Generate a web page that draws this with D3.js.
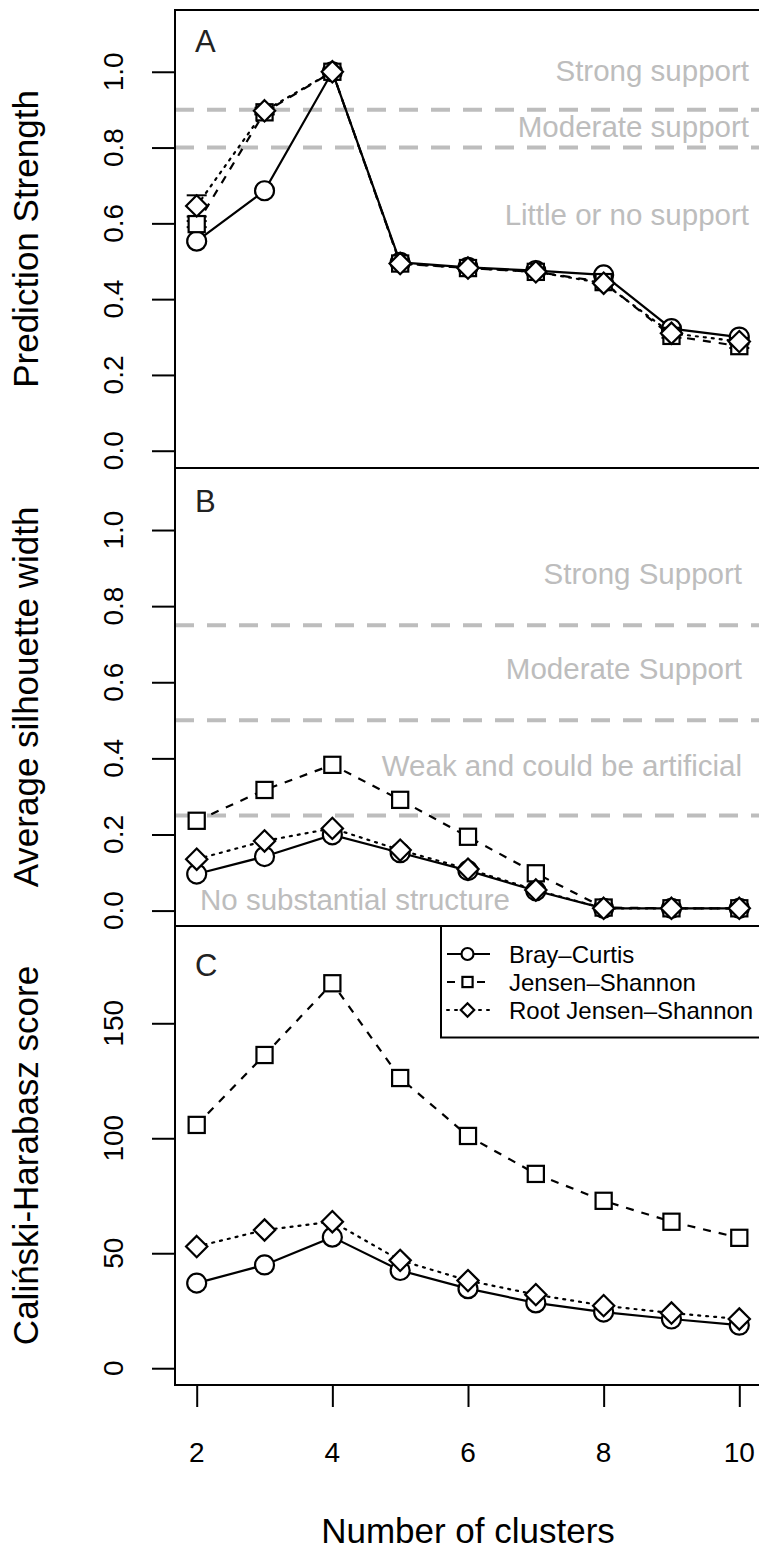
<!DOCTYPE html>
<html>
<head>
<meta charset="utf-8">
<script src="https://cdn.jsdelivr.net/npm/d3@7"></script>
<style>
  html, body { margin: 0; padding: 0; background: #fff; }
  svg { display: block; }
  text { font-family: "Liberation Sans", Arial, Helvetica, sans-serif; }
</style>
</head>
<body>
<svg id="chart" width="759" height="1552"></svg>
<script>
// ---------------- data ----------------
const clusters = [2, 3, 4, 5, 6, 7, 8, 9, 10];
const xTicks = [2, 4, 6, 8, 10];
const seriesNames = ["Bray\u2013Curtis", "Jensen\u2013Shannon", "Root Jensen\u2013Shannon"];

// Panel A: prediction strength
const psBC  = [0.553, 0.686, 1.000, 0.497, 0.484, 0.475, 0.464, 0.322, 0.300];
const psJS  = [0.598, 0.893, 1.000, 0.494, 0.482, 0.472, 0.445, 0.303, 0.276];
const psRJS = [0.646, 0.897, 1.000, 0.494, 0.482, 0.472, 0.442, 0.310, 0.288];
const psErrBC  = [0.005, 0.005, 0, 0.004, 0.003, 0.003, 0.004, 0.005, 0.004];
const psErrJS  = [0.008, 0.006, 0, 0.004, 0.003, 0.003, 0.004, 0.005, 0.005];
const psErrRJS = [0.028, 0.008, 0, 0.004, 0.003, 0.003, 0.004, 0.005, 0.005];

// Panel B: average silhouette width
const silBC  = [0.096, 0.142, 0.199, 0.152, 0.105, 0.052, 0.006, 0.006, 0.006];
const silJS  = [0.236, 0.317, 0.383, 0.291, 0.194, 0.098, 0.008, 0.006, 0.006];
const silRJS = [0.135, 0.183, 0.216, 0.159, 0.109, 0.054, 0.006, 0.006, 0.006];

// Panel C: Calinski-Harabasz score
const chBC  = [37.0, 44.9, 57.0, 42.5, 34.6, 28.4, 24.4, 21.4, 18.7];
const chJS  = [105.8, 136.2, 167.4, 126.2, 101.0, 84.5, 72.8, 63.7, 56.7];
const chRJS = [52.9, 60.1, 63.7, 46.9, 38.1, 32.0, 27.2, 24.0, 21.4];

const ticksA = [0, 0.2, 0.4, 0.6, 0.8, 1.0];
const ticksB = [0, 0.2, 0.4, 0.6, 0.8, 1.0];
const ticksC = [0, 50, 100, 150];

const refA = [0.9, 0.8];
const refB = [0.75, 0.5, 0.25];
const labelsA = ["Strong support", "Moderate support", "Little or no support"];
const labelsB = ["Strong Support", "Moderate Support", "Weak and could be artificial", "No substantial structure"];

// ---------------- layout ----------------
const svg = d3.select("#chart");
const left = 175, right = 761;
const x = d3.scaleLinear().domain([1.68, 10.32]).range([left, right]);

const panels = [
  { letter: "A", title: "Prediction Strength", top: 10, bottom: 468, domain: [-0.0456, 1.163],
    series: [psBC, psJS, psRJS], err: [psErrBC, psErrJS, psErrRJS], ticks: ticksA, fmt: d3.format(".1f") },
  { letter: "B", title: "Average silhouette width", top: 468, bottom: 926, domain: [-0.0405, 1.163],
    series: [silBC, silJS, silRJS], err: null, ticks: ticksB, fmt: d3.format(".1f") },
  { letter: "C", title: "Cali\u0144ski-Harabasz score", top: 926, bottom: 1385, domain: [-7.3, 192.3],
    series: [chBC, chJS, chRJS], err: null, ticks: ticksC, fmt: d3.format("d") }
];

const dashes = [null, "8,8", "2,6"];
const shapes = ["circle", "square", "diamond"];

function marker(g, shape, cx, cy, s) {
  if (shape === "circle") {
    g.append("circle").attr("cx", cx).attr("cy", cy).attr("r", s)
      .attr("fill", "#fff").attr("stroke", "#000").attr("stroke-width", 2.2);
  } else if (shape === "square") {
    const h = s * 0.85;
    g.append("rect").attr("x", cx - h).attr("y", cy - h).attr("width", 2 * h).attr("height", 2 * h)
      .attr("fill", "#fff").attr("stroke", "#000").attr("stroke-width", 2.2);
  } else {
    const h = s * 1.12;
    g.append("path").attr("d", `M${cx},${cy - h}L${cx + h},${cy}L${cx},${cy + h}L${cx - h},${cy}Z`)
      .attr("fill", "#fff").attr("stroke", "#000").attr("stroke-width", 2.2);
  }
}

const grey = "#bdbdbd";

panels.forEach((p, pi) => {
  const y = d3.scaleLinear().domain(p.domain).range([p.bottom, p.top]);
  const g = svg.append("g");

  // reference lines
  const refs = pi === 0 ? refA : (pi === 1 ? refB : []);
  refs.forEach(r => {
    g.append("line").attr("x1", left).attr("x2", right).attr("y1", y(r)).attr("y2", y(r))
      .attr("stroke", grey).attr("stroke-width", 4).attr("stroke-dasharray", "19,13");
  });

  // reference labels
  if (pi === 0) {
    const ys = [81, 136.5, 225];
    labelsA.forEach((t, i) => g.append("text").attr("x", 749).attr("y", ys[i])
      .attr("text-anchor", "end").attr("font-size", 29.5).attr("fill", grey).text(t));
  }
  if (pi === 1) {
    const ys = [584, 679, 776];
    labelsB.slice(0, 3).forEach((t, i) => g.append("text").attr("x", 742).attr("y", ys[i])
      .attr("text-anchor", "end").attr("font-size", 29.5).attr("fill", grey).text(t));
    g.append("text").attr("x", 200).attr("y", 910).attr("font-size", 29.5).attr("fill", grey).text(labelsB[3]);
  }

  // series lines
  p.series.forEach((vals, si) => {
    const line = d3.line().x((d, i) => x(clusters[i])).y(d => y(d));
    g.append("path").attr("d", line(vals)).attr("fill", "none").attr("stroke", "#000")
      .attr("stroke-width", 2.2).attr("stroke-dasharray", dashes[si])
      .attr("stroke-linecap", si === 2 ? "round" : "butt");
  });

  // error bars
  if (p.err) {
    p.err.forEach((errs, si) => {
      errs.forEach((e, i) => {
        if (!e) return;
        const cx = x(clusters[i]), v = p.series[si][i];
        g.append("line").attr("x1", cx).attr("x2", cx).attr("y1", y(v - e)).attr("y2", y(v + e))
          .attr("stroke", "#000").attr("stroke-width", 2);
        [v - e, v + e].forEach(b => g.append("line").attr("x1", cx - 10).attr("x2", cx + 10)
          .attr("y1", y(b)).attr("y2", y(b)).attr("stroke", "#000").attr("stroke-width", 2));
      });
    });
  }

  // markers
  p.series.forEach((vals, si) => {
    vals.forEach((v, i) => marker(g, shapes[si], x(clusters[i]), y(v), 9.5));
  });

  // box
  g.append("rect").attr("x", left).attr("y", p.top).attr("width", right - left).attr("height", p.bottom - p.top)
    .attr("fill", "none").attr("stroke", "#000").attr("stroke-width", 2);

  // y axis
  const yAxis = d3.axisLeft(y).tickValues(p.ticks).tickSize(22).tickFormat("");
  const ya = g.append("g").attr("transform", `translate(${left - 1},0)`).call(yAxis);
  ya.select(".domain").remove();
  ya.selectAll(".tick line").attr("stroke", "#000").attr("stroke-width", 2);
  p.ticks.forEach(t => {
    g.append("text").attr("transform", `translate(123,${y(t)}) rotate(-90)`)
      .attr("text-anchor", "middle").attr("font-size", 28).attr("fill", "#000").text(p.fmt(t));
  });

  // y title
  g.append("text").attr("transform", `translate(38,${(p.top + p.bottom) / 2}) rotate(-90)`)
    .attr("text-anchor", "middle").attr("font-size", 35).attr("fill", "#000").text(p.title);

  // panel letter
  const ly = [52, 512, 976][pi];
  g.append("text").attr("x", 195).attr("y", ly).attr("font-size", 31).attr("fill", "#222").text(p.letter);

  // x axis on bottom panel
  if (pi === 2) {
    const xAxis = d3.axisBottom(x).tickValues(xTicks).tickSize(22).tickFormat("");
    const xa = g.append("g").attr("transform", `translate(0,${p.bottom})`).call(xAxis);
    xa.select(".domain").remove();
    xa.selectAll(".tick line").attr("stroke", "#000").attr("stroke-width", 2);
    xTicks.forEach(t => g.append("text").attr("x", x(t)).attr("y", 1461.5)
      .attr("text-anchor", "middle").attr("font-size", 28).attr("fill", "#000").text(t));
    g.append("text").attr("x", (left + right) / 2).attr("y", 1543)
      .attr("text-anchor", "middle").attr("font-size", 35).attr("fill", "#000").text("Number of clusters");

    // legend
    const lg = svg.append("g");
    lg.append("rect").attr("x", 441).attr("y", p.top).attr("width", right - 441).attr("height", 111.5)
      .attr("fill", "#fff").attr("stroke", "#000").attr("stroke-width", 2);
    seriesNames.forEach((name, si) => {
      const cy = p.top + 28 * (si + 1);
      lg.append("line").attr("x1", 447).attr("x2", 490).attr("y1", cy).attr("y2", cy)
        .attr("stroke", "#000").attr("stroke-width", 2)
        .attr("stroke-dasharray", si === 1 ? "8,7" : (si === 2 ? "2,6" : null))
        .attr("stroke-linecap", si === 2 ? "round" : "butt");
      marker(lg, shapes[si], 467.5, cy, 6);
      lg.append("text").attr("x", 509).attr("y", cy + 8.5).attr("font-size", 24).attr("fill", "#000").text(name);
    });
  }
});
</script>
</body>
</html>
